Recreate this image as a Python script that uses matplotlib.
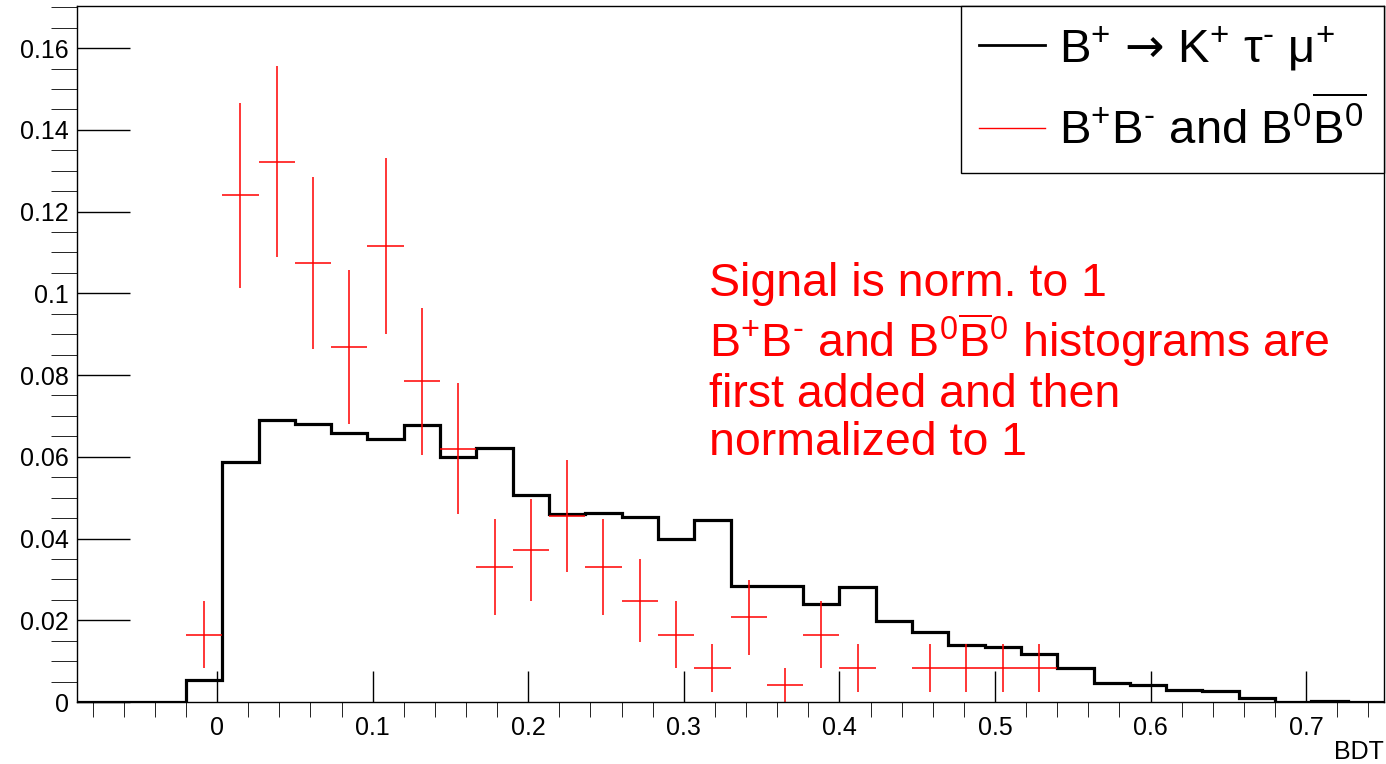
import numpy as np
import matplotlib
matplotlib.use("Agg")
import matplotlib.pyplot as plt
from matplotlib.ticker import MultipleLocator, FuncFormatter
from matplotlib.lines import Line2D

plt.rcParams['font.family'] = ['Liberation Sans', 'DejaVu Sans']
plt.rcParams['mathtext.fontset'] = 'custom'
plt.rcParams['mathtext.rm'] = 'Liberation Sans'
plt.rcParams['mathtext.it'] = 'Liberation Sans:italic'
plt.rcParams['mathtext.sf'] = 'DejaVu Sans'
plt.rcParams['mathtext.default'] = 'regular'

# binning of the BDT histograms
x_min, x_max, n_bins = -0.09, 0.75, 36

# signal B+ -> K+ tau- mu+ (normalised to 1)
signal = [0, 0, 0, 0.0054, 0.0588, 0.0690, 0.0680, 0.0657, 0.0643, 0.0678,
          0.0600, 0.0622, 0.0507, 0.0459, 0.0462, 0.0452, 0.0399, 0.0445,
          0.0285, 0.0283, 0.0241, 0.0281, 0.0197, 0.0171, 0.0139, 0.0134,
          0.0117, 0.0082, 0.0047, 0.0042, 0.0029, 0.0027, 0.0009, 0.0,
          0.0002, 0.0]

# background B+B- and B0B0bar (normalised to 1)
bkg = [0, 0, 0, 0.0165, 0.1240, 0.1322, 0.1074, 0.0868, 0.1116, 0.0785,
       0.0620, 0.0331, 0.0372, 0.0455, 0.0331, 0.0248, 0.0165, 0.0083,
       0.0207, 0.0041, 0.0165, 0.0083, 0, 0.0083, 0.0083, 0.0083,
       0.0083, 0, 0, 0, 0, 0, 0, 0, 0, 0]
bkg_err = [0, 0, 0, 0.0083, 0.0226, 0.0234, 0.0211, 0.0189, 0.0215, 0.0180,
           0.0160, 0.0117, 0.0124, 0.0137, 0.0117, 0.0101, 0.0083, 0.0058,
           0.0092, 0.0041, 0.0083, 0.0058, 0, 0.0058, 0.0058, 0.0058,
           0.0058, 0, 0, 0, 0, 0, 0, 0, 0, 0]

edges = np.linspace(x_min, x_max, n_bins + 1)
centers = 0.5 * (edges[:-1] + edges[1:])
half_w = 0.5 * (edges[1] - edges[0])
bkg = np.array(bkg)
bkg_err = np.array(bkg_err)
filled = bkg > 0

fig = plt.figure(figsize=(13.86, 7.64), dpi=100)
ax = fig.add_axes([77 / 1386, 62 / 764, 1307 / 1386, 696 / 764])

ax.stairs(signal, edges, color='black', linewidth=2.3)
ax.errorbar(centers[filled], bkg[filled], yerr=bkg_err[filled], xerr=half_w,
            fmt='none', ecolor='red', elinewidth=1.1, capsize=0)

ax.set_xlim(x_min, x_max)
ax.set_ylim(0, 0.1703)

ax.xaxis.set_major_locator(MultipleLocator(0.1))
ax.xaxis.set_minor_locator(MultipleLocator(0.02))
ax.yaxis.set_major_locator(MultipleLocator(0.02))
ax.yaxis.set_minor_locator(MultipleLocator(0.005))
fmt = FuncFormatter(lambda v, p: '{:g}'.format(round(v, 6)))
ax.xaxis.set_major_formatter(fmt)
ax.yaxis.set_major_formatter(fmt)
ax.tick_params(axis='both', direction='in', labelsize=18, width=1)
ax.tick_params(axis='x', which='major', length=22, pad=10)
ax.tick_params(axis='x', which='minor', length=11)
ax.tick_params(axis='y', which='major', length=38, pad=6)
ax.tick_params(axis='y', which='minor', length=19)
for s in ax.spines.values():
    s.set_linewidth(1)

ax.set_xlabel('BDT', fontsize=18, loc='right', labelpad=0)

handles = [Line2D([], [], color='black', linewidth=2),
           Line2D([], [], color='red', linewidth=1)]
labels = [r'B$^{+}$ $\mathsf{→}$ K$^{+}$ τ$^{\text{-}}$ μ$^{+}$',
          r'B$^{+}$B$^{\text{-}}$ and B$^{0}\overline{\mathrm{B}^{0}}$']
leg = ax.legend(handles, labels, loc='upper right', borderaxespad=0,
                fontsize=34, fancybox=False, edgecolor='black',
                handlelength=1.4, handletextpad=0.3, borderpad=0.38,
                labelspacing=0.55, framealpha=1)
leg.get_frame().set_linewidth(1)

note = ['Signal is norm. to 1',
        r'B$^{+}$B$^{\text{-}}$ and B$^{0}\overline{\mathrm{B}}^{0}$ histograms are',
        'first added and then',
        'normalized to 1']
ax.text(0.316, 0.1076, '\n'.join(note), color='red', fontsize=33.5,
        va='top', ha='left', linespacing=1.12, transform=ax.transData)

fig.savefig('out.png', dpi=100)
